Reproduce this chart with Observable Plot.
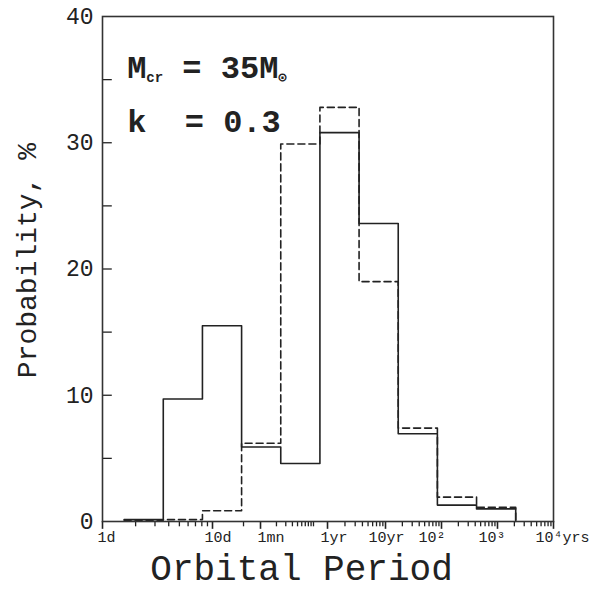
<!DOCTYPE html>
<html><head><meta charset="utf-8">
<script src="https://cdn.jsdelivr.net/npm/d3@7"></script>
<script src="https://cdn.jsdelivr.net/npm/@observablehq/plot@0.6"></script>
<style>body{margin:0;background:#fff} svg{display:block;background:#fff}</style>
</head><body><div id="chart"></div>
<script>
// Histogram bins (axis units: one unit = one bin)
const binStart = [0, 1, 2, 3, 4, 5, 6, 7, 8, 9];
const binEnd = 10;
const probSolid  = [0.15, 9.7, 15.5, 5.9, 4.6, 30.8, 23.6, 6.95, 1.3, 1.0];
const probDashed = [0.1, 0.15, 0.85, 6.2, 29.9, 32.8, 19.0, 7.4, 1.93, 1.12];

// Axes
const xDomain = [-0.552, 10.965];
const yDomain = [0, 40];
const yTicks = [0, 10, 20, 30, 40];
const yMinorTicks = [5, 15, 25, 35];
const xLabels = ["1d", "10d", "1mn", "1yr", "10yr", "10²", "10³", "10⁴yrs"];
const xLabelPos = [-0.679, 2.053, 3.407, 5.015, 6.241, 7.518, 9.05, 10.506];
const xMajorTicks = [-0.552, 2.257, 3.483, 5.194, 6.675, 8.105, 9.535, 10.965];
const xDecades = [[-0.552, 2.257], [3.483, 4.836], [5.194, 6.675], [6.675, 8.105], [8.105, 9.535], [9.535, 10.965]];
const xExtraTicks = [3.049, 4.836];

const xTitle = "Orbital Period";
const yTitle = "Probability, %";
const annotations = [
  {x: 0.09, y: 35.1, parts: [["M", false], ["cr", true], [" = 35M", false], ["⊙", true]]},
  {x: 0.09, y: 30.8, parts: [["k", false], ["  = 0.3", false]]}
];

const minorTicks = [];
for (const [a, b] of xDecades) for (let k = 2; k <= 9; k++) minorTicks.push(a + (b - a) * Math.log10(k));
minorTicks.push(...xExtraTicks);

function steps(vals) {
  const pts = binStart.map((x, i) => ({x, y: vals[i]}));
  pts.push({x: binEnd, y: 0});
  return pts;
}

const ink = "#222";
const mono = "Liberation Mono, Courier New, monospace";

const plot = Plot.plot({
  width: 613, height: 593,
  marginLeft: 102, marginRight: 60, marginTop: 16, marginBottom: 72,
  x: {domain: xDomain, axis: null},
  y: {domain: yDomain, axis: null},
  style: {background: "#fff", fontFamily: mono},
  marks: [
    Plot.ruleY(yMinorTicks.concat(yTicks.slice(1, -1)), {y: d => d, x1: xDomain[0], x2: xDomain[0] + 0.25, stroke: ink, strokeWidth: 1.3}),
    Plot.ruleX(minorTicks, {x: d => d, y1: 0, y2: -0.42, stroke: ink, strokeWidth: 1.3}),
    Plot.ruleX(xMajorTicks, {x: d => d, y1: 0, y2: -0.62, stroke: ink, strokeWidth: 1.6}),
    Plot.line(steps(probDashed), {x: "x", y: "y", curve: "step-after", stroke: ink, strokeWidth: 1.6, strokeDasharray: "7,4"}),
    Plot.line(steps(probSolid), {x: "x", y: "y", curve: "step-after", stroke: ink, strokeWidth: 1.6}),
    Plot.frame({stroke: "#333", strokeWidth: 1.6}),
    Plot.text(yTicks, {x: xDomain[0], y: d => d, text: d => String(d), textAnchor: "end", dx: -9, fontSize: 23, fill: ink, fontFamily: mono}),
    Plot.text(xLabels, {x: (d, i) => xLabelPos[i], y: 0, text: d => d, textAnchor: "start", dy: 16, fontSize: 15, fill: ink, fontFamily: mono}),
    Plot.text([xTitle], {x: 4.53, y: 0, text: d => d, dy: 47, fontSize: 36, fill: ink, fontFamily: mono}),
    Plot.text([yTitle], {x: -2.467, y: 20.67, text: d => d, rotate: -90, fontSize: 28, fill: ink, fontFamily: mono})
  ]
});

const sx = plot.scale("x"), sy = plot.scale("y");
const svg = d3.select(plot);
for (const a of annotations) {
  const t = svg.append("text")
    .attr("x", sx.apply(a.x)).attr("y", sy.apply(a.y))
    .attr("text-anchor", "start")
    .attr("font-family", mono).attr("font-weight", "bold").attr("font-size", 32)
    .attr("fill", ink).attr("xml:space", "preserve").style("white-space", "pre");
  let prevSub = false;
  for (const [s, sub] of a.parts) {
    const ts = t.append("tspan").text(s);
    if (sub) ts.attr("font-size", 14).attr("dy", 4);
    else if (prevSub) ts.attr("dy", -4);
    prevSub = sub;
  }
}
document.getElementById("chart").appendChild(plot);
</script>
</body></html>
